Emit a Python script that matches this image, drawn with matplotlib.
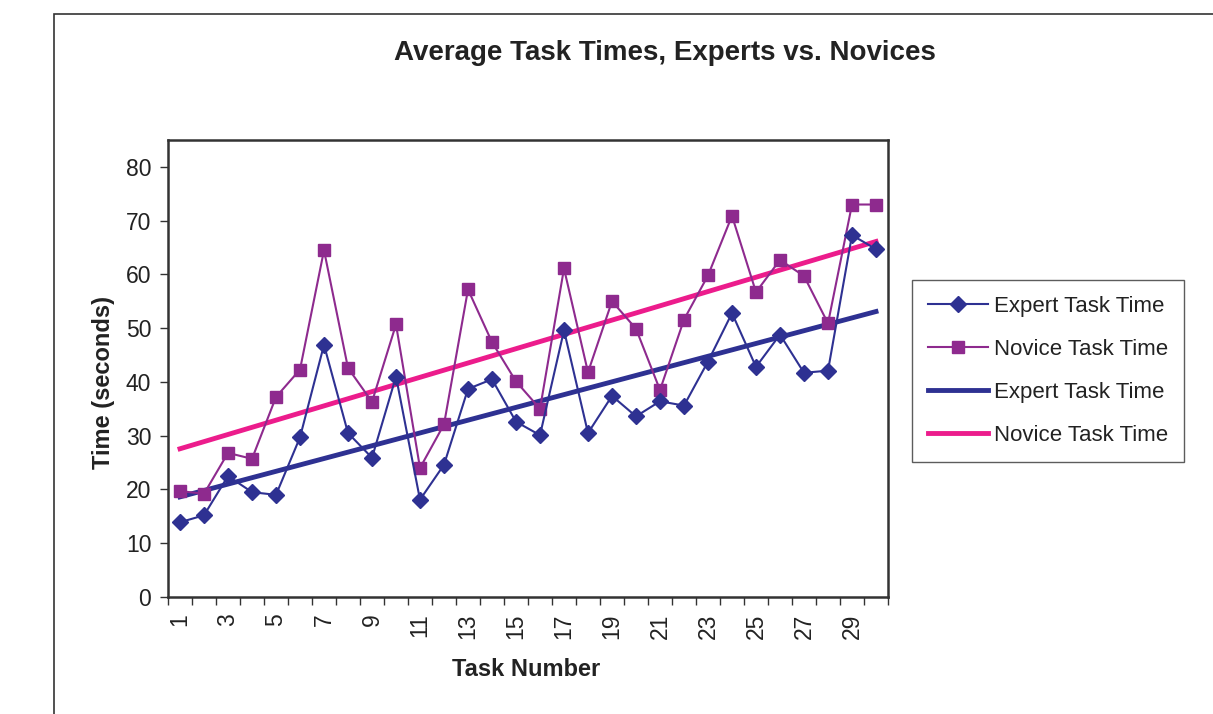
import matplotlib.pyplot as plt
import numpy as np
from matplotlib.patches import Rectangle

plt.rcParams['font.family'] = ['Liberation Sans', 'DejaVu Sans']

# Task numbers and average times (seconds)
tasks = list(range(1, 31))
expert = [13.9, 15.2, 22.5, 19.5, 19.0, 29.7, 46.9, 30.5, 25.9, 41.0,
          18.1, 24.6, 38.7, 40.5, 32.6, 30.1, 49.6, 30.5, 37.4, 33.6,
          36.4, 35.6, 43.8, 52.8, 42.8, 48.8, 41.7, 42.1, 67.3, 64.7]
novice = [19.7, 19.2, 26.8, 25.7, 37.2, 42.3, 64.5, 42.6, 36.3, 50.7,
          24.0, 32.1, 57.2, 47.4, 40.1, 35.0, 61.1, 41.8, 55.0, 49.9,
          38.5, 51.6, 59.8, 70.9, 56.7, 62.7, 59.7, 50.9, 73.0, 73.0]

expert_color = '#2E3192'
novice_color = '#8E2A8E'
novice_trend_color = '#EC1C8C'

fig = plt.figure(figsize=(12.13, 7.14), dpi=100)
ax = fig.add_axes([168 / 1213, 1 - 597 / 714, 720 / 1213, 457 / 714])

# outer chart frame (cut off at right and bottom like the reference)
fig.patches.append(Rectangle((54 / 1213, -0.1), 1.0, 1.1 - 14 / 714,
                             transform=fig.transFigure, fill=False,
                             edgecolor='#333333', linewidth=1.2))

x = np.array(tasks)
ax.plot(x, expert, marker='D', color=expert_color, linewidth=1.5,
        markersize=8, label='Expert Task Time', zorder=4)
ax.plot(x, novice, marker='s', color=novice_color, linewidth=1.5,
        markersize=8, label='Novice Task Time', zorder=3)

# linear trendlines
pe = np.polyfit(x, expert, 1)
pn = np.polyfit(x, novice, 1)
ax.plot(x, np.polyval(pe, x), color=expert_color, linewidth=3.5,
        label='Expert Task Time', zorder=2)
ax.plot(x, np.polyval(pn, x), color=novice_trend_color, linewidth=3.5,
        label='Novice Task Time', zorder=2)

ax.set_xlim(0.5, 30.5)
ax.set_ylim(0, 85)
ax.set_yticks(range(0, 81, 10))
ax.tick_params(axis='y', labelsize=16.5, length=6, width=1, color='#333333',
               pad=6, labelcolor='#222222')

# category boundaries as tick marks, labels on odd tasks
ax.set_xticks(np.arange(0.5, 31, 1))
ax.set_xticklabels([])
ax.tick_params(axis='x', which='major', length=6, width=1, color='#333333')
ax.set_xticks(tasks[::2], minor=True)
ax.set_xticklabels([str(t) for t in tasks[::2]], minor=True, rotation=90)
ax.tick_params(axis='x', which='minor', length=0, labelsize=16.5, pad=12,
               labelcolor='#222222')

for s in ax.spines.values():
    s.set_linewidth(1.8)
    s.set_color('#333333')

ax.set_xlabel('Task Number', fontsize=17, fontweight='bold', color='#222222')
ax.xaxis.set_label_coords(0.497, -0.133)
ax.set_ylabel('Time (seconds)', fontsize=17, fontweight='bold', color='#222222')
ax.yaxis.set_label_coords(-0.074, 0.47)
fig.text(665 / 1213, 1 - 53 / 714, 'Average Task Times, Experts vs. Novices',
         ha='center', va='center', fontsize=20, fontweight='bold',
         color='#222222')

leg = ax.legend(loc='upper left', bbox_to_anchor=(912 / 1213, 1 - 280 / 714),
                bbox_transform=fig.transFigure, fontsize=16, frameon=True,
                fancybox=False, borderpad=0.7, labelspacing=1.0,
                handlelength=2.7, handletextpad=0.3, borderaxespad=0)
leg.get_frame().set_edgecolor('#333333')
leg.get_frame().set_linewidth(1.0)
for t in leg.get_texts():
    t.set_color('#222222')

fig.savefig('out.png', dpi=100)
